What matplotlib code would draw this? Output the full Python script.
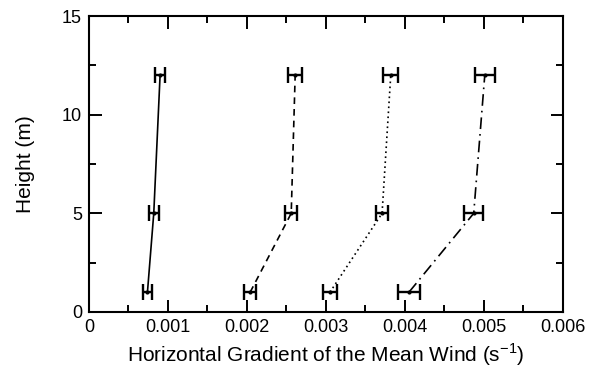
import matplotlib
matplotlib.use("Agg")
import matplotlib.pyplot as plt
from matplotlib.ticker import MultipleLocator

plt.rcParams['font.family'] = ['Liberation Sans', 'DejaVu Sans']
plt.rcParams['mathtext.fontset'] = 'custom'
plt.rcParams['mathtext.rm'] = 'Liberation Sans'

heights = [1, 5, 12]

grad_a = [0.00074, 0.00082, 0.00090]
err_a = [0.000060, 0.000063, 0.000068]

grad_b = [0.00204, 0.00256, 0.00261]
err_b = [0.000075, 0.000078, 0.000085]

grad_c = [0.00305, 0.00371, 0.00382]
err_c = [0.000085, 0.000078, 0.000092]

grad_d = [0.00405, 0.00487, 0.00501]
err_d = [0.000135, 0.000118, 0.000130]

series = [
    (grad_a, err_a, '-'),
    (grad_b, err_b, (0, (4, 3))),
    (grad_c, err_c, (0, (1, 2))),
    (grad_d, err_d, (0, (7, 3, 1, 3))),
]

fig = plt.figure(figsize=(5.96, 3.67), dpi=100)
ax = fig.add_axes([0.1493, 0.1499, 0.7953, 0.8065])

for g, e, ls in series:
    ax.errorbar(g, heights, xerr=e, color='black', ecolor='black',
                linestyle=ls, linewidth=1.2, marker='o', markersize=2,
                elinewidth=1.7, capsize=5.5, capthick=1.7)

ax.set_xlim(0, 0.006)
ax.set_ylim(0, 15)
ax.xaxis.set_minor_locator(MultipleLocator(0.0005))
ax.yaxis.set_major_locator(MultipleLocator(5))
ax.yaxis.set_minor_locator(MultipleLocator(2.5))
ax.set_xticks([0, 0.001, 0.002, 0.003, 0.004, 0.005, 0.006])
ax.set_xticklabels(['0', '0.001', '0.002', '0.003', '0.004', '0.005', '0.006'])

ax.tick_params(which='both', direction='in', top=True, right=True,
               width=1.4, labelsize=13)
ax.tick_params(which='major', length=9, pad=5)
ax.tick_params(which='minor', length=5)
for s in ax.spines.values():
    s.set_linewidth(1.5)

ax.set_xlabel(r'Horizontal Gradient of the Mean Wind (s$^{\mathregular{-1}}$)', fontsize=15)
ax.set_ylabel('Height (m)', fontsize=15)
ax.xaxis.set_label_coords(0.5, -0.100)
ax.yaxis.set_label_coords(-0.114, 0.5)

fig.savefig('out.png', dpi=100)
